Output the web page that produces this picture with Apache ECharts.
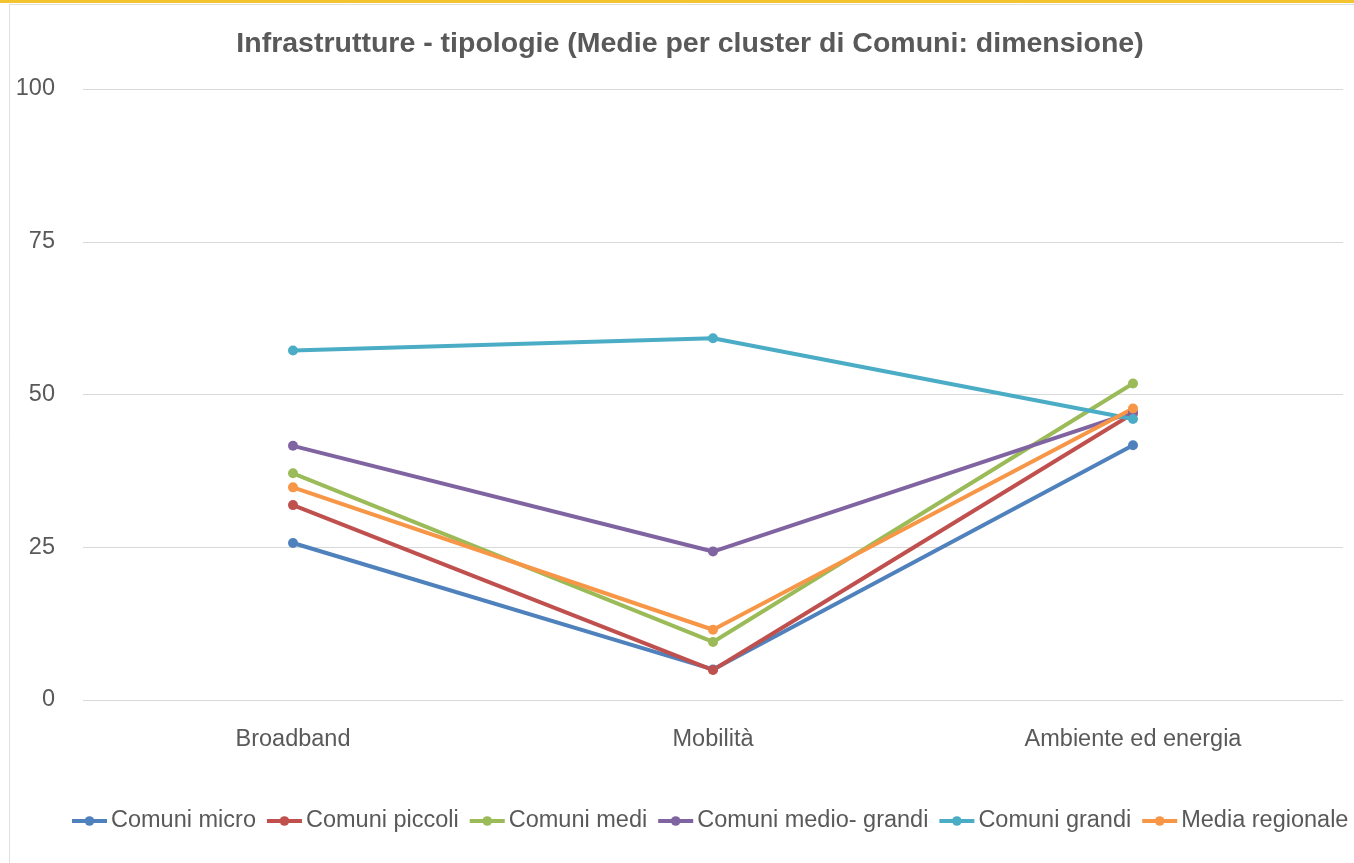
<!DOCTYPE html>
<html>
<head>
<meta charset="utf-8">
<script src="https://cdn.jsdelivr.net/npm/echarts@6/dist/echarts.min.js"></script>
<style>html,body{margin:0;padding:0;background:#fff}#c{width:1354px;height:863px}</style>
</head>
<body>
<div id="c"></div>
<script>
const categories = ["Broadband", "Mobilità", "Ambiente ed energia"];
const seriesNames = ["Comuni micro", "Comuni piccoli", "Comuni medi", "Comuni medio- grandi", "Comuni grandi", "Media regionale"];
const comuniMicro = [25.7, 5.0, 41.7];
const comuniPiccoli = [31.9, 4.9, 46.9];
const comuniMedi = [37.1, 9.5, 51.8];
const comuniMedioGrandi = [41.6, 24.3, 47.1];
const comuniGrandi = [57.2, 59.2, 46.0];
const mediaRegionale = [34.8, 11.5, 47.7];
const colors = ["#4F81BD", "#C0504D", "#9BBB59", "#8064A2", "#4BACC6", "#F79646"];
const yTicks = [0, 25, 50, 75, 100];

const values = [comuniMicro, comuniPiccoli, comuniMedi, comuniMedioGrandi, comuniGrandi, mediaRegionale];
const FONT = '"Liberation Sans", Arial, sans-serif';

const chart = echarts.init(document.getElementById('c'), null, {renderer: 'canvas'});
chart.setOption({
  animation: false,
  color: colors,
  textStyle: {fontFamily: FONT},
  graphic: [
    {type: 'rect', shape: {x: 0, y: 0, width: 1354, height: 3}, style: {fill: '#F4C430'}, silent: true},
    {type: 'line', shape: {x1: 9, y1: 4.5, x2: 1354, y2: 4.5}, style: {stroke: '#E0E0E0', lineWidth: 1}, silent: true},
    {type: 'line', shape: {x1: 9.5, y1: 4, x2: 9.5, y2: 863}, style: {stroke: '#E0E0E0', lineWidth: 1}, silent: true}
  ],
  title: {
    text: 'Infrastrutture - tipologie (Medie per cluster di Comuni: dimensione)',
    left: 685, top: 25, textAlign: 'center',
    textStyle: {fontFamily: FONT, fontSize: 28.5, fontWeight: 'bold', color: '#595959'}
  },
  legend: {
    top: 809, left: 70, width: 1290, padding: 0,
    itemWidth: 35, itemHeight: 12, itemGap: 9,
    lineStyle: {width: 4},
    textStyle: {fontFamily: FONT, fontSize: 23.5, color: '#595959', padding: [0, 0, 0, -1]},
    data: seriesNames
  },
  grid: {left: 83, right: 11, top: 89, bottom: 163, containLabel: false},
  xAxis: {
    type: 'category', data: categories, boundaryGap: true,
    axisLine: {show: false}, axisTick: {show: false},
    axisLabel: {fontFamily: FONT, fontSize: 23.5, color: '#595959', margin: 28}
  },
  yAxis: {
    type: 'value', min: yTicks[0], max: yTicks[yTicks.length - 1], interval: 25,
    axisLine: {show: false}, axisTick: {show: false},
    axisLabel: {fontFamily: FONT, fontSize: 23.5, color: '#595959', margin: 28},
    splitLine: {lineStyle: {color: '#D9D9D9', width: 1}}
  },
  series: seriesNames.map((n, i) => ({
    name: n, type: 'line', data: values[i],
    symbol: 'circle', symbolSize: 10,
    lineStyle: {width: 4, color: colors[i]},
    itemStyle: {color: colors[i]}
  }))
});
</script>
</body>
</html>
